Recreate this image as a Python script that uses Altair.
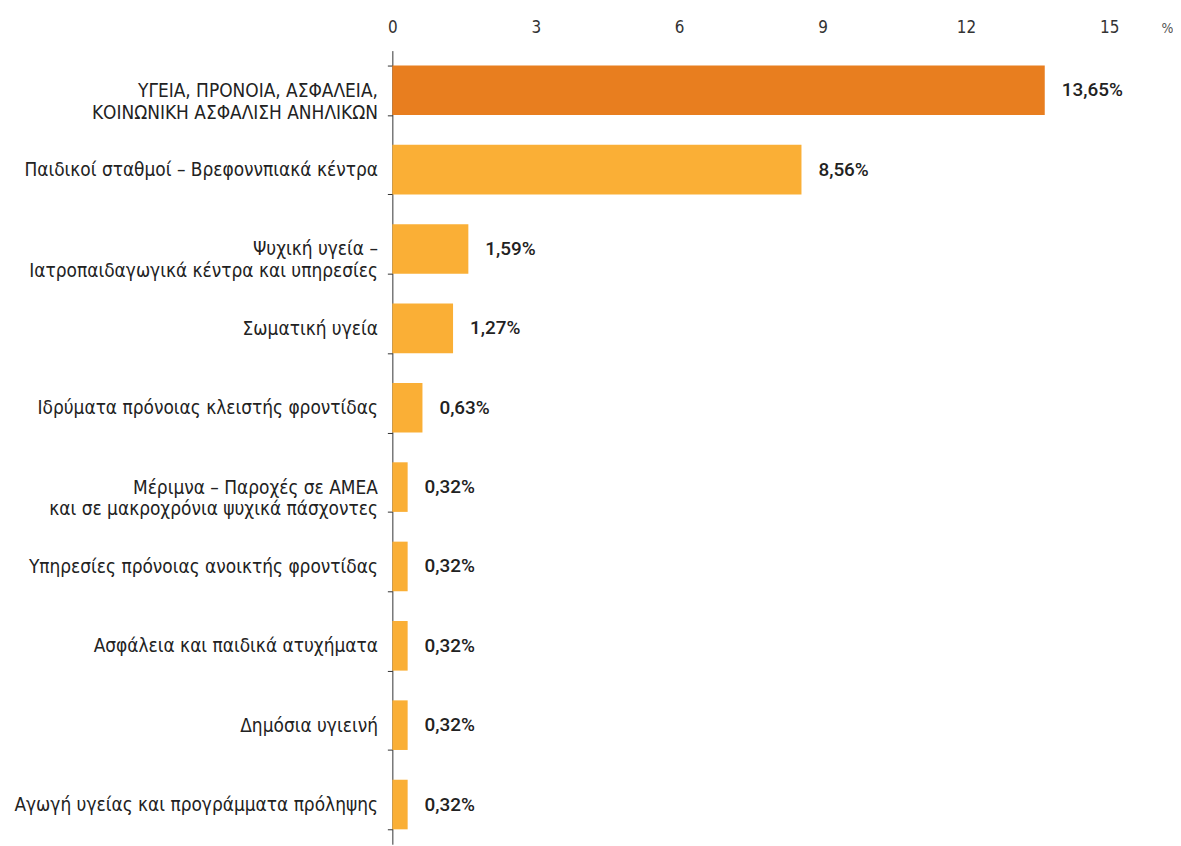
import altair as alt
import pandas as pd

categories = [
    "ΥΓΕΙΑ, ΠΡΟΝΟΙΑ, ΑΣΦΑΛΕΙΑ, |ΚΟΙΝΩΝΙΚΗ ΑΣΦΑΛΙΣΗ ΑΝΗΛΙΚΩΝ",
    "Παιδικοί σταθμοί – Βρεφοννπιακά κέντρα",
    "Ψυχική υγεία – |Ιατροπαιδαγωγικά κέντρα και υπηρεσίες",
    "Σωματική υγεία",
    "Ιδρύματα πρόνοιας κλειστής φροντίδας",
    "Μέριμνα – Παροχές σε ΑΜΕΑ |και σε μακροχρόνια ψυχικά πάσχοντες",
    "Υπηρεσίες πρόνοιας ανοικτής φροντίδας",
    "Ασφάλεια και παιδικά ατυχήματα",
    "Δημόσια υγιεινή",
    "Αγωγή υγείας και προγράμματα πρόληψης",
]
values = [13.65, 8.56, 1.59, 1.27, 0.63, 0.32, 0.32, 0.32, 0.32, 0.32]
groups = ["total"] + ["sub"] * 9
x_ticks = [0, 3, 6, 9, 12, 15]

df = pd.DataFrame({"cat": categories, "value": values, "group": groups})

FONT = "Liberation Sans Narrow, DejaVu Sans Condensed, Roboto"

y = alt.Y(
    "cat:N",
    sort=categories,
    scale=alt.Scale(paddingInner=0.375, paddingOuter=0.1875),
    axis=alt.Axis(
        title=None,
        labelExpr="split(datum.label, '|')",
        labelFont=FONT,
        labelFontSize=19,
        labelColor="#222222",
        labelPadding=10,
        labelLimit=500,
        labelLineHeight=22,
        domainColor="#333333",
        tickColor="#333333",
        tickSize=5,
        tickBand="extent",
    ),
)

x = alt.X(
    "value:Q",
    scale=alt.Scale(domain=[0, 15], nice=False),
    axis=alt.Axis(
        orient="top",
        values=x_ticks,
        grid=False,
        domain=False,
        ticks=False,
        labelFlush=False,
        labelFont=FONT,
        labelFontSize=17,
        labelColor="#333333",
        labelPadding=14,
        title="%",
        titleFont=FONT,
        titleFontSize=14,
        titleFontWeight="normal",
        titleColor="#555555",
        titleAngle=0,
        titleAlign="left",
        titleX=772,
        titleY=-22,
        titleBaseline="middle",
    ),
)

bars = alt.Chart(df).mark_bar().encode(
    x=x,
    y=y,
    color=alt.Color(
        "group:N",
        scale=alt.Scale(domain=["total", "sub"], range=["#E87E1F", "#FAAF36"]),
        legend=None,
    ),
)

text = alt.Chart(df).transform_calculate(
    lbl="replace(format(datum.value, '.2f'), '.', ',') + '%'"
).mark_text(
    align="left", baseline="middle", dx=17, font="Roboto", fontSize=19,
    fontWeight=500, color="#222222"
).encode(
    x="value:Q",
    y=alt.Y("cat:N", sort=categories),
    text="lbl:N",
)

chart = (
    (bars + text)
    .properties(width=720, height=797, padding={"top": 9, "left": 5, "right": 0, "bottom": 0})
    .configure_view(stroke=None)
)

chart.save("out.html", embed_options={"renderer": "svg", "actions": False})
